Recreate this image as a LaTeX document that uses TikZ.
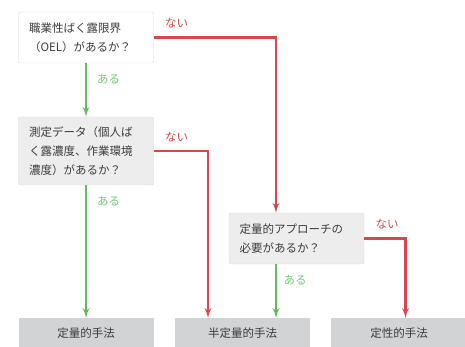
\documentclass[tikz,border=0pt]{standalone}
\usepackage{fontspec}
\setmainfont{Noto Sans CJK JP}
\usepackage{tikz}
\usetikzlibrary{arrows}
\usetikzlibrary{positioning}
\definecolor{ngred}{HTML}{D9474B}
\definecolor{okgreen}{HTML}{5CBF5A}
\definecolor{boxline}{HTML}{D8D8D8}
\definecolor{qgray}{HTML}{EDEDED}
\definecolor{resgray}{HTML}{D1D3D5}
\definecolor{textgray}{HTML}{3C3C3C}
\tikzstyle{every node}+=[inner sep=0pt]
\tikzstyle{question} = [rectangle, draw=boxline, fill=white, rounded corners=2pt, text=textgray, font=\fontsize{11.5}{19}\selectfont, align=left, text width=114pt, inner xsep=10.5pt, minimum height=51pt]
\tikzstyle{result} = [rectangle, fill=resgray, text=textgray, font=\fontsize{11.5}{14}\selectfont, minimum width=135pt, minimum height=30pt, anchor=north]
\tikzstyle{okline} = [draw, okgreen, line width=2.4pt, -latex']
\tikzstyle{ngline} = [draw, ngred, line width=2.4pt, -latex']
\tikzstyle{oklabel} = [okgreen!85!white, font=\fontsize{11.5}{13}\selectfont]
\tikzstyle{nglabel} = [ngred, font=\fontsize{11.5}{13}\selectfont]

\begin{document}
\begin{tikzpicture}[x=1pt, y=-1pt]
          \useasboundingbox (0,0) rectangle (465,346);
          % Place nodes
          \node [question] (q1) at (86,37.5) {職業性ばく露限界\\（OEL）があるか？};
          \node [question, fill=qgray, minimum height=68pt] (q2) at (86,151) {測定データ（個人ば\\く露濃度、作業環境\\濃度）があるか？};
          \node [question, fill=qgray] (q3) at (296.5,238.5) {定量的アプローチの\\必要があるか？};
          \node [result] (r1) at (86,318) {定量的手法};
          \node [result] (r2) at (242.5,318) {半定量的手法};
          \node [result, minimum width=136pt] (r3) at (399,318) {定性的手法};
          % Edge labels
          \node [nglabel] (n1) at (176.5,23) {ない};
          \node [oklabel] (a1) at (108.5,79) {ある};
          \node [nglabel] (n2) at (176.5,137) {ない};
          \node [oklabel] (a2) at (108.5,201) {ある};
          \node [nglabel] (n3) at (387,224) {ない};
          \node [oklabel] (a3) at (295,280) {ある};
          % Draw edges
          \path [okline] (q1) -- (q2);
          \path [ngline] (q1.east) -| ([xshift=-20.5pt]q3.north);
          \path [okline] (q2) -- (r1);
          \path [ngline] (q2.east) -| ([xshift=-34.5pt]r2.north);
          \path [okline] ([xshift=-20.5pt]q3.south) -- ([xshift=33.5pt]r2.north);
          \path [ngline] (q3.east) -| ([xshift=6.5pt]r3.north);
        \end{tikzpicture}
\end{document}
